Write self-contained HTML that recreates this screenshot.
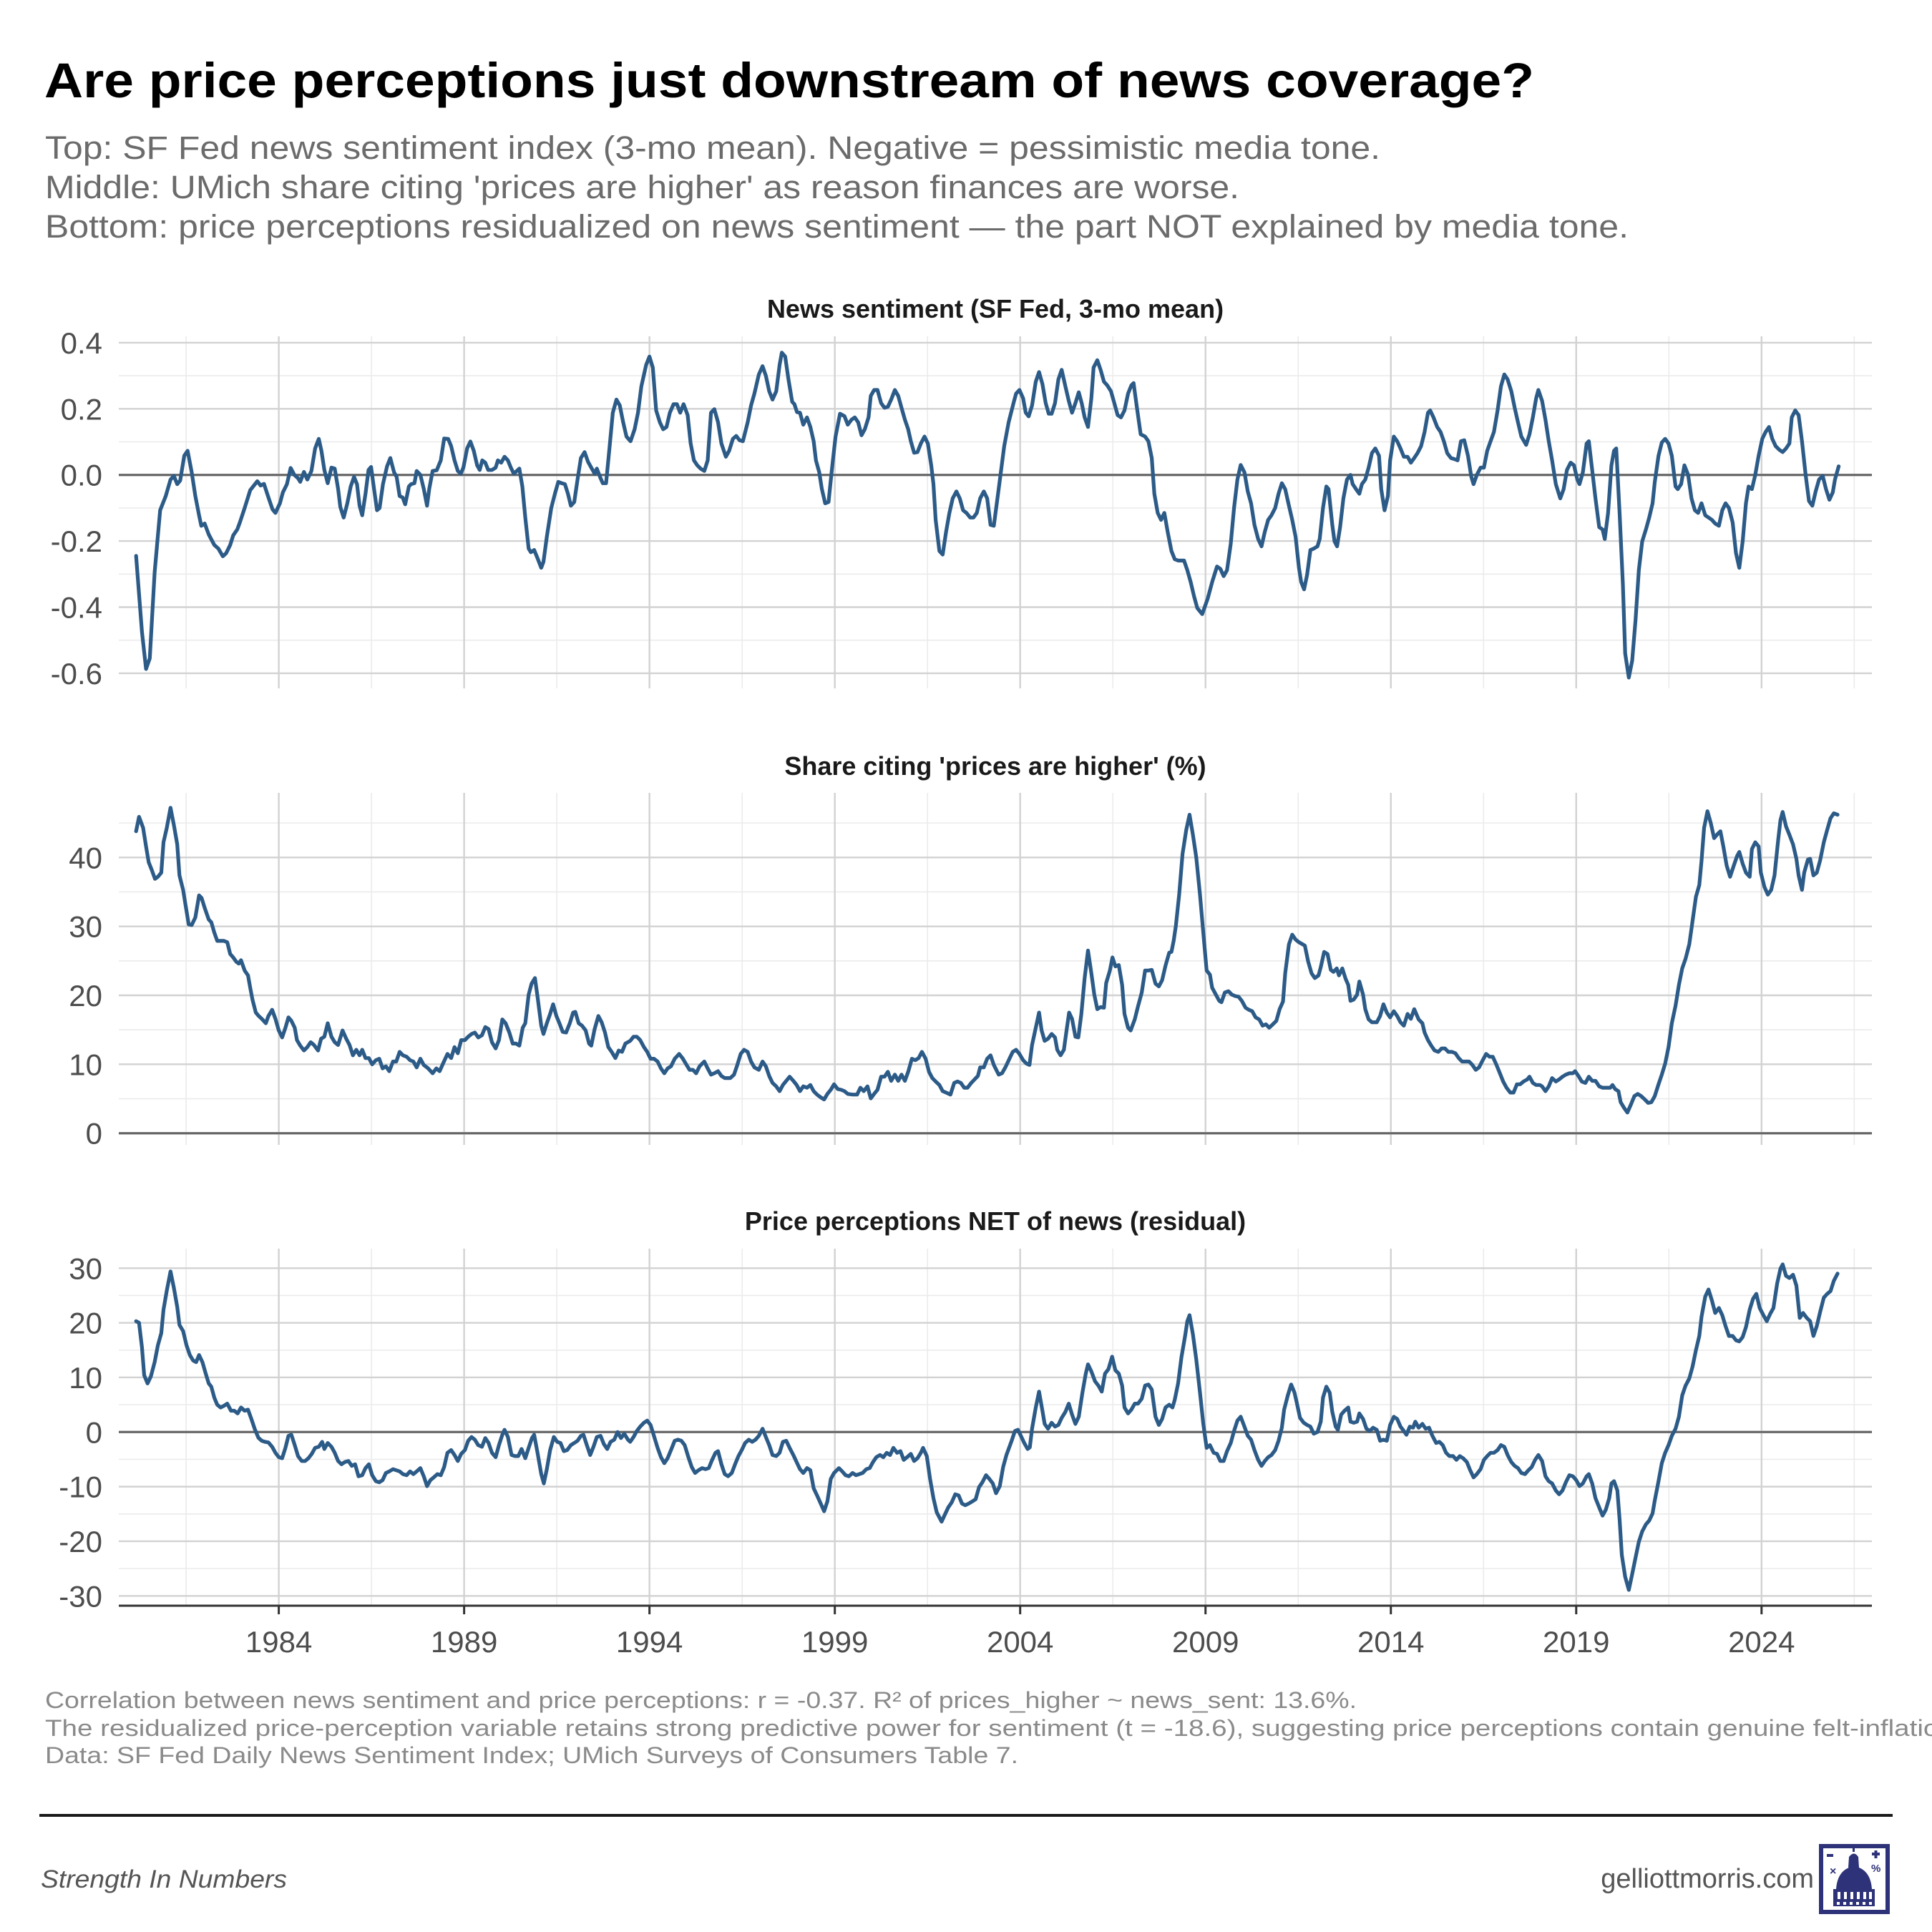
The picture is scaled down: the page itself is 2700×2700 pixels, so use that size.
<!DOCTYPE html>
<html><head><meta charset="utf-8"><title>Are price perceptions just downstream of news coverage?</title>
<style>html,body{margin:0;padding:0;background:#fff}svg{display:block}text{font-family:"Liberation Sans",Arial,sans-serif}</style></head>
<body>
<svg id="chart" width="2700" height="2700" viewBox="0 0 2700 2700" xmlns="http://www.w3.org/2000/svg">
<rect width="2700" height="2700" fill="#fff"/>
<text x="62" y="136" font-size="69" font-weight="bold" fill="#000" textLength="2082" lengthAdjust="spacingAndGlyphs">Are price perceptions just downstream of news coverage?</text>
<g font-size="45" fill="#6b6b6b">
<text x="63" y="222" textLength="1866" lengthAdjust="spacingAndGlyphs">Top: SF Fed news sentiment index (3-mo mean). Negative = pessimistic media tone.</text>
<text x="63" y="277" textLength="1669" lengthAdjust="spacingAndGlyphs">Middle: UMich share citing 'prices are higher' as reason finances are worse.</text>
<text x="63" y="332" textLength="2213" lengthAdjust="spacingAndGlyphs">Bottom: price perceptions residualized on news sentiment — the part NOT explained by media tone.</text>
</g>
<g id="panels"></g>
<g font-size="32" fill="#8a8a8a">
<text x="63" y="2387" textLength="1833" lengthAdjust="spacingAndGlyphs">Correlation between news sentiment and price perceptions: r = -0.37. R² of prices_higher ~ news_sent: 13.6%.</text>
<text x="63" y="2426" textLength="2790" lengthAdjust="spacingAndGlyphs">The residualized price-perception variable retains strong predictive power for sentiment (t = -18.6), suggesting price perceptions contain genuine felt-inflation signal.</text>
<text x="63" y="2464" textLength="1360" lengthAdjust="spacingAndGlyphs">Data: SF Fed Daily News Sentiment Index; UMich Surveys of Consumers Table 7.</text>
</g>
<line x1="55" y1="2537" x2="2645" y2="2537" stroke="#1a1a1a" stroke-width="4"/>
<text x="57" y="2638" font-size="35" font-style="italic" fill="#555" textLength="344" lengthAdjust="spacingAndGlyphs">Strength In Numbers</text>
<text x="2535" y="2638" font-size="38" fill="#555" text-anchor="end">gelliottmorris.com</text>
<g>
<rect x="2545" y="2580" width="93" height="92" fill="none" stroke="#2e3278" stroke-width="6"/>
<rect x="2558" y="2584" width="67" height="6" fill="#fff"/>
<rect x="2553" y="2591" width="9" height="4" fill="#2e3278"/>
<rect x="2616" y="2589" width="11" height="4" fill="#2e3278"/><rect x="2619.5" y="2586" width="4" height="11" fill="#2e3278"/>
<text x="2557" y="2620" font-size="16" font-weight="bold" fill="#2e3278">×</text>
<text x="2615" y="2616" font-size="15" font-weight="bold" fill="#2e3278">%</text>
<rect x="2589" y="2578" width="3" height="10" fill="#2e3278"/>
<path d="M2583 2610 L2584 2595 Q2591 2586 2597 2595 L2598 2610 Z" fill="#2e3278"/>
<path d="M2566 2640 Q2568 2612 2591 2608 Q2614 2612 2616 2640 Z" fill="#2e3278"/>
<rect x="2562" y="2640" width="58" height="24" fill="#2e3278"/>
<g fill="#fff"><rect x="2568" y="2644" width="4" height="10"/><rect x="2577" y="2644" width="4" height="10"/><rect x="2586" y="2644" width="4" height="10"/><rect x="2595" y="2644" width="4" height="10"/><rect x="2604" y="2644" width="4" height="10"/><rect x="2612" y="2644" width="4" height="10"/>
<rect x="2567" y="2658" width="4" height="4"/><rect x="2576" y="2658" width="4" height="4"/><rect x="2585" y="2658" width="4" height="4"/><rect x="2594" y="2658" width="4" height="4"/><rect x="2603" y="2658" width="4" height="4"/><rect x="2612" y="2658" width="4" height="4"/></g>
</g>
</svg>
<script>
const newsYears=[1980.15,1980.31,1980.42,1980.52,1980.65,1980.80,1980.95,1981.08,1981.17,1981.26,1981.34,1981.45,1981.54,1981.65,1981.75,1981.85,1981.91,1982.00,1982.11,1982.26,1982.37,1982.49,1982.58,1982.69,1982.77,1982.88,1982.95,1983.08,1983.23,1983.42,1983.51,1983.60,1983.72,1983.83,1983.91,1984.03,1984.11,1984.22,1984.32,1984.42,1984.52,1984.58,1984.68,1984.77,1984.88,1984.98,1985.08,1985.15,1985.23,1985.32,1985.42,1985.51,1985.60,1985.66,1985.75,1985.85,1985.94,1986.03,1986.11,1986.18,1986.25,1986.34,1986.42,1986.49,1986.57,1986.65,1986.72,1986.81,1986.92,1987.01,1987.11,1987.18,1987.26,1987.34,1987.41,1987.51,1987.57,1987.66,1987.72,1987.82,1987.91,1988.00,1988.06,1988.15,1988.26,1988.37,1988.46,1988.57,1988.65,1988.74,1988.83,1988.91,1988.98,1989.08,1989.17,1989.26,1989.35,1989.42,1989.49,1989.57,1989.65,1989.75,1989.85,1989.91,1990.00,1990.09,1990.18,1990.26,1990.34,1990.42,1990.49,1990.57,1990.65,1990.74,1990.80,1990.89,1990.98,1991.08,1991.14,1991.23,1991.35,1991.45,1991.54,1991.63,1991.72,1991.80,1991.88,1991.97,1992.06,1992.15,1992.25,1992.34,1992.43,1992.52,1992.58,1992.68,1992.74,1992.83,1992.92,1993.01,1993.11,1993.20,1993.29,1993.38,1993.49,1993.60,1993.69,1993.78,1993.91,1994.00,1994.09,1994.18,1994.28,1994.37,1994.46,1994.55,1994.65,1994.74,1994.83,1994.92,1995.03,1995.11,1995.20,1995.29,1995.38,1995.48,1995.57,1995.66,1995.75,1995.85,1995.94,1996.06,1996.15,1996.25,1996.34,1996.43,1996.52,1996.65,1996.74,1996.83,1996.95,1997.05,1997.14,1997.23,1997.32,1997.42,1997.51,1997.57,1997.66,1997.75,1997.85,1997.91,1997.98,1998.06,1998.15,1998.25,1998.34,1998.43,1998.49,1998.58,1998.65,1998.74,1998.83,1998.92,1999.02,1999.14,1999.26,1999.35,1999.45,1999.54,1999.63,1999.72,1999.81,1999.91,1999.97,2000.06,2000.15,2000.25,2000.34,2000.43,2000.52,2000.62,2000.71,2000.80,2000.89,2000.98,2001.05,2001.14,2001.23,2001.32,2001.42,2001.51,2001.60,2001.66,2001.72,2001.82,2001.91,2002.00,2002.09,2002.18,2002.28,2002.37,2002.46,2002.55,2002.65,2002.74,2002.83,2002.92,2003.02,2003.11,2003.20,2003.29,2003.42,2003.57,2003.69,
2003.82,2003.89,2003.98,2004.08,2004.15,2004.23,2004.32,2004.42,2004.51,2004.60,2004.69,2004.77,2004.85,2004.94,2005.03,2005.12,2005.22,2005.31,2005.40,2005.49,2005.58,2005.66,2005.74,2005.83,2005.92,2005.98,2006.08,2006.17,2006.26,2006.35,2006.45,2006.54,2006.63,2006.72,2006.815,2006.91,2007.00,2007.06,2007.15,2007.25,2007.37,2007.46,2007.55,2007.62,2007.71,2007.80,2007.89,2007.98,2008.08,2008.17,2008.26,2008.42,2008.51,2008.60,2008.69,2008.78,2008.91,2009.06,2009.18,2009.31,2009.40,2009.49,2009.58,2009.68,2009.77,2009.86,2009.95,2010.05,2010.14,2010.23,2010.32,2010.42,2010.51,2010.60,2010.69,2010.78,2010.88,2010.97,2011.06,2011.15,2011.25,2011.34,2011.43,2011.52,2011.58,2011.66,2011.74,2011.83,2011.92,2012.02,2012.08,2012.17,2012.26,2012.32,2012.42,2012.48,2012.55,2012.63,2012.72,2012.815,2012.91,2012.97,2013.06,2013.15,2013.22,2013.31,2013.40,2013.49,2013.58,2013.68,2013.74,2013.83,2013.92,2013.98,2014.08,2014.17,2014.26,2014.35,2014.45,2014.54,2014.63,2014.72,2014.815,2014.91,2015.00,2015.06,2015.15,2015.25,2015.34,2015.43,2015.52,2015.62,2015.71,2015.80,2015.89,2015.98,2016.08,2016.17,2016.23,2016.32,2016.42,2016.51,2016.60,2016.69,2016.78,2016.88,2016.97,2017.06,2017.15,2017.25,2017.34,2017.43,2017.52,2017.65,2017.74,2017.83,2017.92,2017.98,2018.08,2018.17,2018.26,2018.35,2018.45,2018.57,2018.66,2018.75,2018.85,2018.94,2019.03,2019.09,2019.18,2019.28,2019.34,2019.43,2019.52,2019.62,2019.71,2019.77,2019.86,2019.95,2020.02,2020.08,2020.17,2020.26,2020.32,2020.42,2020.51,2020.60,2020.69,2020.78,2020.88,2020.97,2021.06,2021.12,2021.22,2021.31,2021.40,2021.49,2021.58,2021.68,2021.74,2021.83,2021.92,2022.02,2022.11,2022.20,2022.29,2022.38,2022.48,2022.57,2022.66,2022.75,2022.85,2022.94,2023.03,2023.12,2023.22,2023.31,2023.40,2023.49,2023.58,2023.65,2023.74,2023.83,2023.92,2024.02,2024.11,2024.20,2024.29,2024.38,2024.48,2024.57,2024.66,2024.75,2024.815,2024.91,2025.00,2025.09,2025.19,2025.28,2025.37,2025.46,2025.55,2025.65,2025.74,2025.83,2025.92,2025.98,2026.08];
const newsValues=[-0.245,-0.475,-0.587,-0.555,-0.295,-0.107,-0.064,-0.014,-0.003,-0.028,-0.017,0.058,0.073,0.008,-0.064,-0.122,-0.154,-0.147,-0.18,-0.212,-0.223,-0.246,-0.237,-0.212,-0.183,-0.165,-0.144,-0.1,-0.046,-0.019,-0.032,-0.027,-0.068,-0.104,-0.115,-0.086,-0.053,-0.028,0.021,0,-0.01,-0.021,0.009,-0.014,0.012,0.08,0.109,0.073,0.015,-0.025,0.022,0.019,-0.042,-0.097,-0.129,-0.086,-0.035,-0.006,-0.028,-0.093,-0.122,-0.057,0.015,0.024,-0.042,-0.107,-0.1,-0.028,0.026,0.051,0.008,-0.006,-0.064,-0.068,-0.089,-0.035,-0.028,-0.025,0.012,0,-0.042,-0.093,-0.042,0.012,0.014,0.044,0.11,0.109,0.087,0.044,0.012,0.004,0.022,0.08,0.101,0.073,0.029,0.015,0.044,0.037,0.015,0.015,0.022,0.044,0.037,0.055,0.044,0.022,0.004,0.012,0.019,-0.035,-0.129,-0.223,-0.234,-0.227,-0.252,-0.281,-0.263,-0.187,-0.1,-0.057,-0.021,-0.025,-0.028,-0.057,-0.093,-0.082,-0.014,0.051,0.069,0.04,0.022,0.004,0.019,-0.01,-0.025,-0.025,0.08,0.188,0.228,0.21,0.159,0.116,0.102,0.138,0.188,0.268,0.333,0.358,0.325,0.195,0.159,0.138,0.145,0.188,0.214,0.214,0.188,0.214,0.181,0.095,0.044,0.029,0.019,0.012,0.044,0.188,0.199,0.159,0.095,0.055,0.073,0.109,0.118,0.105,0.102,0.159,0.21,0.246,0.304,0.329,0.3,0.253,0.228,0.253,0.333,0.37,0.358,0.289,0.221,0.214,0.19,0.188,0.152,0.174,0.145,0.102,0.044,0.008,-0.042,-0.086,-0.082,0.015,0.116,0.185,0.178,0.152,0.167,0.174,0.159,0.12,0.138,0.174,0.239,0.257,0.257,0.217,0.203,0.206,0.228,0.257,0.239,0.203,0.167,0.138,0.102,0.067,0.069,0.095,0.116,0.095,0.029,-0.028,-0.136,-0.23,-0.241,-0.173,-0.115,-0.071,-0.05,-0.071,-0.107,-0.115,-0.129,-0.129,-0.115,-0.071,-0.05,-0.071,-0.151,-0.154,-0.042,0.087,0.159,
0.217,0.246,0.257,0.232,0.188,0.177,0.21,0.282,0.311,0.275,0.217,0.185,0.185,0.217,0.289,0.318,0.268,0.224,0.188,0.217,0.25,0.217,0.174,0.145,0.232,0.325,0.347,0.318,0.282,0.271,0.253,0.217,0.181,0.174,0.195,0.246,0.271,0.278,0.203,0.123,0.116,0.102,0.051,-0.057,-0.115,-0.136,-0.115,-0.173,-0.23,-0.255,-0.259,-0.259,-0.288,-0.324,-0.367,-0.403,-0.421,-0.374,-0.324,-0.277,-0.284,-0.306,-0.288,-0.208,-0.1,-0.014,0.03,0.008,-0.05,-0.086,-0.151,-0.194,-0.216,-0.172,-0.136,-0.122,-0.1,-0.057,-0.025,-0.043,-0.093,-0.136,-0.187,-0.281,-0.324,-0.346,-0.302,-0.227,-0.223,-0.216,-0.194,-0.1,-0.035,-0.043,-0.151,-0.201,-0.216,-0.158,-0.071,-0.014,0,-0.028,-0.043,-0.057,-0.028,-0.014,0.022,0.066,0.08,0.058,-0.043,-0.107,-0.064,0.044,0.116,0.102,0.08,0.055,0.055,0.037,0.051,0.066,0.087,0.13,0.188,0.195,0.174,0.145,0.13,0.102,0.066,0.051,0.048,0.044,0.102,0.105,0.058,-0.006,-0.028,0,0.022,0.022,0.073,0.102,0.13,0.195,0.268,0.304,0.289,0.253,0.203,0.159,0.116,0.091,0.123,0.174,0.232,0.257,0.224,0.167,0.102,0.044,-0.028,-0.071,-0.043,0.015,0.037,0.029,-0.014,-0.028,0.008,0.095,0.102,0.015,-0.071,-0.158,-0.165,-0.194,-0.115,0.029,0.073,0.08,-0.115,-0.331,-0.54,-0.613,-0.562,-0.439,-0.288,-0.201,-0.165,-0.129,-0.086,-0.021,0.058,0.098,0.109,0.095,0.058,-0.035,-0.043,-0.028,0.029,0,-0.071,-0.107,-0.115,-0.086,-0.122,-0.129,-0.136,-0.147,-0.154,-0.107,-0.086,-0.1,-0.144,-0.237,-0.281,-0.201,-0.086,-0.035,-0.043,0,0.058,0.109,0.13,0.145,0.109,0.087,0.076,0.069,0.08,0.095,0.174,0.195,0.181,0.102,0,-0.079,-0.093,-0.05,-0.014,-0.003,-0.043,-0.075,-0.053,-0.014,0.026];
const newsTicks=[0.4,0.2,0,-0.2,-0.4,-0.6];
const newsTickLabels=["0.4","0.2","0.0","-0.2","-0.4","-0.6"];

const pricesYears=[1980.15,1980.23,1980.34,1980.42,1980.49,1980.58,1980.66,1980.74,1980.83,1980.89,1980.98,1981.08,1981.17,1981.26,1981.32,1981.42,1981.49,1981.57,1981.65,1981.75,1981.85,1981.92,1982.00,1982.11,1982.18,1982.26,1982.34,1982.42,1982.52,1982.61,1982.69,1982.77,1982.85,1982.92,1982.98,1983.08,1983.17,1983.23,1983.29,1983.38,1983.46,1983.54,1983.65,1983.72,1983.82,1983.91,1984.00,1984.09,1984.18,1984.26,1984.34,1984.43,1984.49,1984.58,1984.68,1984.77,1984.86,1984.95,1985.06,1985.14,1985.23,1985.32,1985.42,1985.51,1985.60,1985.72,1985.82,1985.91,1986.00,1986.09,1986.18,1986.25,1986.34,1986.43,1986.52,1986.62,1986.71,1986.80,1986.89,1986.98,1987.08,1987.17,1987.26,1987.35,1987.45,1987.54,1987.63,1987.72,1987.82,1987.91,1988.03,1988.15,1988.25,1988.34,1988.43,1988.55,1988.65,1988.74,1988.83,1988.92,1989.02,1989.11,1989.20,1989.29,1989.38,1989.48,1989.57,1989.66,1989.75,1989.85,1989.94,1990.03,1990.12,1990.22,1990.31,1990.40,1990.49,1990.58,1990.65,1990.74,1990.82,1990.91,1990.98,1991.08,1991.14,1991.23,1991.32,1991.40,1991.49,1991.57,1991.66,1991.75,1991.85,1991.94,1992.00,1992.09,1992.18,1992.28,1992.37,1992.43,1992.52,1992.62,1992.71,1992.80,1992.89,1992.98,1993.08,1993.17,1993.26,1993.35,1993.48,1993.57,1993.66,1993.75,1993.85,1993.94,1994.03,1994.12,1994.22,1994.31,1994.40,1994.49,1994.58,1994.68,1994.80,1994.89,1994.98,1995.08,1995.17,1995.26,1995.35,1995.48,1995.57,1995.66,1995.75,1995.85,1995.94,1996.03,1996.18,1996.28,1996.37,1996.46,1996.55,1996.65,1996.74,1996.83,1996.95,1997.05,1997.14,1997.23,1997.32,1997.42,1997.51,1997.60,1997.69,1997.78,1997.88,1997.97,1998.06,1998.15,1998.25,1998.34,1998.43,1998.52,1998.62,1998.71,1998.80,1998.89,1998.98,1999.08,1999.17,1999.26,1999.35,1999.48,1999.60,1999.69,1999.78,1999.88,1999.97,2000.06,2000.15,2000.25,2000.34,2000.43,2000.52,2000.62,2000.71,2000.80,2000.89,2000.98,2001.08,2001.17,2001.26,2001.35,2001.45,2001.54,2001.63,2001.72,2001.82,2001.91,2002.00,2002.12,2002.22,2002.31,2002.40,2002.49,2002.58,2002.68,2002.77,2002.86,2002.92,2003.02,2003.11,2003.20,2003.29,2003.42,2003.51,2003.60,
2003.71,2003.80,2003.89,2003.98,2004.08,2004.17,2004.25,2004.32,2004.42,2004.51,2004.58,2004.66,2004.75,2004.85,2004.94,2005.00,2005.09,2005.18,2005.25,2005.32,2005.40,2005.49,2005.57,2005.65,2005.74,2005.83,2005.92,2006.00,2006.08,2006.17,2006.26,2006.32,2006.42,2006.49,2006.57,2006.66,2006.75,2006.815,2006.91,2006.98,2007.09,2007.18,2007.28,2007.37,2007.46,2007.55,2007.65,2007.74,2007.83,2007.92,2008.02,2008.08,2008.14,2008.20,2008.29,2008.38,2008.48,2008.57,2008.66,2008.75,2008.85,2008.94,2009.03,2009.12,2009.18,2009.28,2009.37,2009.43,2009.52,2009.62,2009.71,2009.80,2009.89,2009.98,2010.08,2010.17,2010.26,2010.35,2010.45,2010.54,2010.63,2010.72,2010.815,2010.91,2011.00,2011.09,2011.15,2011.25,2011.34,2011.43,2011.52,2011.62,2011.68,2011.77,2011.86,2011.95,2012.05,2012.11,2012.20,2012.29,2012.38,2012.45,2012.54,2012.60,2012.69,2012.78,2012.85,2012.91,2013.00,2013.09,2013.15,2013.25,2013.31,2013.40,2013.49,2013.62,2013.71,2013.80,2013.89,2013.98,2014.08,2014.17,2014.26,2014.35,2014.45,2014.54,2014.63,2014.75,2014.85,2014.91,2015.00,2015.09,2015.18,2015.28,2015.37,2015.46,2015.55,2015.65,2015.74,2015.83,2015.92,2016.02,2016.11,2016.20,2016.29,2016.38,2016.48,2016.57,2016.66,2016.75,2016.85,2016.94,2017.03,2017.12,2017.22,2017.31,2017.40,2017.49,2017.58,2017.68,2017.74,2017.83,2017.92,2018.02,2018.08,2018.17,2018.26,2018.35,2018.45,2018.54,2018.63,2018.72,2018.815,2018.91,2018.97,2019.06,2019.15,2019.25,2019.34,2019.43,2019.52,2019.62,2019.71,2019.83,2019.92,2019.98,2020.05,2020.14,2020.20,2020.29,2020.38,2020.48,2020.57,2020.66,2020.75,2020.85,2020.94,2021.03,2021.12,2021.22,2021.31,2021.40,2021.49,2021.58,2021.68,2021.77,2021.86,2021.95,2022.05,2022.14,2022.23,2022.32,2022.38,2022.45,2022.54,2022.63,2022.72,2022.815,2022.89,2022.97,2023.06,2023.15,2023.25,2023.34,2023.40,2023.49,2023.58,2023.68,2023.74,2023.83,2023.92,2023.98,2024.08,2024.17,2024.26,2024.35,2024.45,2024.51,2024.57,2024.66,2024.75,2024.85,2024.94,2025.00,2025.09,2025.15,2025.25,2025.31,2025.40,2025.49,2025.58,2025.68,2025.77,2025.86,2025.95,2026.05];
const pricesValues=[43.8,45.9,44.3,41.6,39.3,38.1,36.9,37.2,37.8,42.2,44.3,47.2,44.7,41.9,37.4,35.3,32.9,30.3,30.2,31.3,34.5,34.1,32.7,31.0,30.6,29.1,27.9,27.9,27.9,27.7,26.0,25.5,24.9,24.6,25.1,23.6,22.9,21.1,19.4,17.5,17.0,16.6,15.95,17.0,17.9,16.6,14.9,13.9,15.3,16.8,16.3,15.3,13.5,12.7,12.0,12.5,13.2,12.8,12.0,13.7,14.0,15.95,14.0,13.2,12.8,14.9,13.7,12.8,11.3,12.1,11.3,12.1,10.9,10.9,10.0,10.6,10.8,9.4,9.7,9.0,10.4,10.4,11.8,11.3,11.1,10.6,10.4,9.55,10.8,9.9,9.4,8.7,9.4,9.0,10.1,11.5,10.9,12.5,11.6,13.5,13.5,14.0,14.4,14.6,13.9,14.2,15.4,15.1,13.2,12.3,13.5,16.5,15.95,14.6,13.0,13.0,12.7,15.3,15.95,20.1,21.7,22.5,19.8,15.6,14.4,15.95,17.3,18.7,17.0,15.95,14.7,14.6,15.95,17.5,17.6,15.95,15.6,14.9,13.0,12.7,15.1,17.0,16.1,14.6,12.5,11.8,10.9,12.0,11.8,13.0,13.4,14.0,14.0,13.5,12.5,11.8,10.8,10.8,10.4,9.4,8.7,9.4,9.7,10.8,11.5,10.9,10.1,9.2,9.2,8.7,9.7,10.4,9.4,8.5,8.7,9.0,8.3,8.0,8.0,8.5,9.9,11.5,12.1,11.8,10.4,9.55,9.2,10.4,9.7,8.3,7.3,6.8,6.1,7.0,7.6,8.2,7.6,7.0,6.1,6.8,6.6,7.0,6.1,5.6,5.2,4.9,5.7,6.3,7.1,6.4,6.3,6.1,5.7,5.6,5.6,6.6,6.1,6.8,5.05,5.7,6.3,8.2,8.2,8.9,7.6,8.5,7.6,8.5,7.6,8.9,10.8,10.6,10.9,11.8,10.8,8.9,8.0,7.5,7.0,6.1,5.9,5.6,7.3,7.5,7.3,6.6,6.6,7.3,7.8,8.3,9.55,9.55,10.8,11.3,9.9,8.5,8.7,9.55,
10.8,11.8,12.1,11.5,10.6,10.1,9.9,12.8,15.3,17.5,14.9,13.4,13.7,14.4,13.9,12.1,11.3,12.1,14.9,17.5,16.6,14.0,13.9,17.3,22.5,26.5,23.2,20.1,18.0,18.3,18.2,21.8,23.6,25.5,24.2,24.4,21.5,17.3,15.3,14.9,16.5,18.4,20.4,23.6,23.6,23.7,21.7,21.3,22.2,24.3,26.2,26.3,27.9,30.1,34.6,40.5,44.0,46.2,43.3,40.0,34.6,29.1,23.6,23.0,21.1,20.1,19.2,19.0,20.4,20.6,20.1,19.9,19.8,19.2,18.2,17.9,17.7,16.8,16.5,15.6,15.8,15.3,15.8,16.3,18.0,19.1,23.2,27.4,28.8,28.1,27.7,27.4,27.2,24.9,23.2,22.5,22.9,24.1,26.3,26.0,23.7,23.4,23.9,22.9,23.9,22.4,21.5,19.2,19.4,20.1,22.0,20.1,18.0,16.5,16.1,16.1,17.0,18.7,17.5,16.8,17.7,17.0,16.1,15.6,17.3,16.6,18.0,16.5,15.95,14.6,13.5,12.7,12.0,11.8,12.3,12.3,11.8,11.8,11.6,10.9,10.4,10.4,10.4,9.9,9.2,9.55,10.6,11.5,11.1,11.1,9.9,8.7,7.5,6.6,5.9,5.9,7.1,7.1,7.5,7.8,8.2,7.3,7.0,7.0,6.8,6.1,6.8,8.0,7.5,7.8,8.2,8.5,8.7,8.7,9.0,8.3,7.5,7.3,8.2,7.6,7.6,6.8,6.6,6.6,6.6,7.0,6.4,6.1,4.5,3.7,3.0,4.2,5.4,5.7,5.4,4.9,4.4,4.5,5.4,7.1,8.5,10.1,12.5,15.95,18.5,21.5,23.9,25.3,27.4,30.8,34.3,36.0,39.5,44.3,46.7,45.0,42.8,43.4,43.8,41.6,38.8,37.2,38.8,40.2,40.8,39.1,37.8,37.2,41.2,42.2,41.6,37.8,35.7,34.6,35.3,37.4,42.6,45.4,46.6,44.5,43.3,41.9,39.8,37.4,35.3,37.8,39.7,39.8,37.4,37.8,39.6,42.2,44.0,45.7,46.4,46.2];
const pricesTicks=[0,10,20,30,40];
const pricesTickLabels=["0","10","20","30","40"];

const residYears=[1980.15,1980.23,1980.31,1980.37,1980.46,1980.55,1980.65,1980.74,1980.83,1980.89,1980.98,1981.08,1981.17,1981.26,1981.32,1981.42,1981.51,1981.60,1981.69,1981.77,1981.85,1981.94,1982.03,1982.11,1982.18,1982.26,1982.34,1982.43,1982.52,1982.61,1982.71,1982.80,1982.89,1982.98,1983.08,1983.17,1983.26,1983.35,1983.45,1983.54,1983.63,1983.72,1983.82,1983.91,1984.00,1984.09,1984.18,1984.26,1984.34,1984.43,1984.52,1984.62,1984.71,1984.80,1984.89,1984.98,1985.08,1985.17,1985.23,1985.32,1985.42,1985.51,1985.60,1985.69,1985.78,1985.88,1985.97,1986.06,1986.15,1986.25,1986.34,1986.43,1986.52,1986.62,1986.71,1986.80,1986.89,1986.98,1987.08,1987.17,1987.26,1987.35,1987.45,1987.54,1987.63,1987.72,1987.82,1987.91,1988.00,1988.09,1988.18,1988.28,1988.37,1988.46,1988.55,1988.65,1988.74,1988.83,1988.92,1989.02,1989.11,1989.20,1989.29,1989.38,1989.48,1989.57,1989.66,1989.75,1989.85,1989.94,1990.03,1990.09,1990.18,1990.28,1990.37,1990.46,1990.55,1990.65,1990.74,1990.83,1990.89,1990.98,1991.08,1991.15,1991.23,1991.32,1991.42,1991.51,1991.60,1991.69,1991.78,1991.88,1991.97,1992.06,1992.15,1992.22,1992.31,1992.40,1992.49,1992.58,1992.68,1992.77,1992.86,1992.95,1993.05,1993.14,1993.23,1993.32,1993.42,1993.48,1993.57,1993.66,1993.75,1993.85,1993.94,1994.03,1994.12,1994.22,1994.31,1994.40,1994.49,1994.58,1994.68,1994.77,1994.86,1994.95,1995.05,1995.14,1995.23,1995.32,1995.42,1995.51,1995.60,1995.69,1995.78,1995.85,1995.94,1996.03,1996.12,1996.22,1996.31,1996.40,1996.49,1996.58,1996.68,1996.77,1996.86,1996.95,1997.05,1997.14,1997.23,1997.32,1997.42,1997.51,1997.60,1997.69,1997.78,1997.88,1997.97,1998.06,1998.15,1998.25,1998.34,1998.43,1998.52,1998.62,1998.71,1998.80,1998.89,1998.98,1999.11,1999.20,1999.29,1999.38,1999.48,1999.57,1999.66,1999.75,1999.85,1999.94,2000.03,2000.12,2000.22,2000.31,2000.40,2000.49,2000.58,2000.68,2000.77,2000.86,2000.95,2001.05,2001.14,2001.23,2001.32,2001.38,2001.48,2001.57,2001.66,2001.75,2001.88,2001.97,2002.06,2002.15,2002.25,2002.34,2002.43,2002.52,2002.61,2002.71,2002.80,2002.89,2002.98,2003.08,2003.17,2003.26,2003.35,2003.45,2003.54,2003.63,
2003.77,2003.86,2003.94,2004.02,2004.11,2004.20,2004.26,2004.32,2004.42,2004.51,2004.60,2004.66,2004.75,2004.85,2004.94,2005.03,2005.12,2005.22,2005.31,2005.40,2005.49,2005.58,2005.68,2005.77,2005.83,2005.92,2006.02,2006.11,2006.20,2006.29,2006.38,2006.48,2006.57,2006.66,2006.75,2006.815,2006.91,2007.00,2007.09,2007.18,2007.28,2007.37,2007.46,2007.55,2007.65,2007.74,2007.83,2007.92,2008.02,2008.11,2008.17,2008.26,2008.35,2008.45,2008.51,2008.57,2008.66,2008.75,2008.85,2008.94,2009.03,2009.12,2009.22,2009.31,2009.40,2009.49,2009.58,2009.68,2009.77,2009.86,2009.95,2010.05,2010.14,2010.23,2010.32,2010.42,2010.51,2010.60,2010.69,2010.78,2010.88,2010.97,2011.06,2011.12,2011.22,2011.31,2011.40,2011.46,2011.55,2011.65,2011.74,2011.83,2011.92,2012.02,2012.11,2012.17,2012.26,2012.35,2012.42,2012.51,2012.57,2012.66,2012.75,2012.85,2012.91,2013.00,2013.09,2013.15,2013.25,2013.34,2013.43,2013.52,2013.62,2013.71,2013.80,2013.89,2013.98,2014.08,2014.17,2014.26,2014.35,2014.42,2014.51,2014.60,2014.66,2014.75,2014.85,2014.94,2015.03,2015.12,2015.22,2015.31,2015.40,2015.49,2015.58,2015.68,2015.77,2015.86,2015.95,2016.05,2016.14,2016.23,2016.32,2016.42,2016.51,2016.60,2016.69,2016.78,2016.88,2016.97,2017.06,2017.15,2017.25,2017.34,2017.43,2017.52,2017.62,2017.71,2017.80,2017.89,2017.98,2018.08,2018.17,2018.26,2018.35,2018.45,2018.54,2018.63,2018.72,2018.815,2018.91,2019.00,2019.09,2019.18,2019.28,2019.34,2019.43,2019.52,2019.62,2019.71,2019.80,2019.89,2019.95,2020.02,2020.11,2020.17,2020.23,2020.32,2020.42,2020.51,2020.60,2020.69,2020.78,2020.88,2020.97,2021.06,2021.12,2021.22,2021.31,2021.40,2021.49,2021.58,2021.68,2021.77,2021.86,2021.95,2022.05,2022.14,2022.23,2022.32,2022.38,2022.48,2022.57,2022.66,2022.75,2022.85,2022.94,2023.03,2023.12,2023.22,2023.31,2023.40,2023.49,2023.58,2023.68,2023.77,2023.86,2023.95,2024.05,2024.14,2024.23,2024.32,2024.42,2024.51,2024.57,2024.66,2024.75,2024.85,2024.94,2025.03,2025.12,2025.22,2025.31,2025.40,2025.49,2025.58,2025.68,2025.77,2025.86,2025.95,2026.05];
const residValues=[20.3,20.0,15.5,10.4,8.9,10.2,12.8,15.9,18.1,22.4,25.9,29.4,26.4,22.9,19.6,18.5,15.9,14.1,13.1,12.8,14.1,12.8,10.7,8.9,8.3,6.3,5.0,4.5,4.8,5.2,3.9,3.9,3.4,4.5,3.9,4.1,2.4,0.6,-1.05,-1.6,-1.8,-1.9,-2.7,-3.8,-4.6,-4.8,-2.9,-0.7,-0.5,-2.4,-4.4,-5.3,-5.3,-4.8,-4.0,-2.9,-2.7,-1.8,-3.1,-2.0,-2.7,-3.8,-5.3,-5.9,-5.5,-5.3,-6.2,-5.9,-8.1,-7.9,-6.6,-5.9,-7.9,-9.0,-9.2,-8.8,-7.5,-7.2,-6.8,-7.0,-7.2,-7.7,-7.9,-7.2,-7.7,-7.2,-6.6,-8.1,-9.9,-8.8,-8.3,-7.7,-7.9,-6.4,-3.8,-3.3,-4.2,-5.3,-4.0,-3.3,-1.6,-0.9,-1.4,-2.4,-2.7,-1.1,-2.0,-3.8,-4.6,-2.4,-0.5,0.4,-0.9,-4.2,-4.4,-4.4,-3.1,-4.8,-2.9,-1.1,-0.5,-3.8,-7.7,-9.4,-6.8,-3.3,-0.9,-1.8,-2.0,-3.5,-3.3,-2.4,-2.0,-1.6,-0.7,-0.5,-2.4,-4.2,-2.7,-0.9,-0.7,-2.2,-3.1,-1.8,-1.4,0,-1.1,-0.3,-1.4,-1.8,-0.9,0.2,1.0,1.7,2.1,1.3,-0.7,-2.9,-4.6,-5.7,-4.8,-3.3,-1.6,-1.4,-1.6,-2.4,-4.6,-6.4,-7.5,-7.0,-6.6,-6.8,-6.6,-5.1,-3.8,-3.5,-5.9,-7.7,-8.1,-7.5,-5.9,-4.4,-3.3,-2.0,-1.4,-1.8,-1.4,-0.7,0.6,-0.9,-2.4,-4.2,-4.4,-3.8,-1.8,-1.6,-2.9,-4.2,-5.5,-6.8,-7.5,-6.6,-7.0,-10.3,-11.6,-13.1,-14.5,-12.7,-8.6,-7.5,-6.6,-7.2,-7.9,-8.1,-7.5,-7.9,-7.7,-7.5,-6.8,-6.6,-5.5,-4.6,-4.2,-4.6,-3.8,-4.2,-2.9,-3.8,-3.5,-5.1,-4.6,-4.0,-5.3,-4.8,-3.8,-2.9,-4.4,-8.6,-12.1,-14.7,-16.4,-15.1,-13.8,-12.9,-11.4,-11.6,-13.1,-13.4,-13.1,-12.7,-12.3,-10.1,-9.2,-7.9,-8.6,-9.4,-11.2,-9.9,-6.4,-4.2,
-1.6,0.2,0.4,-0.7,-2.0,-3.1,-2.8,0.6,4.5,7.4,3.9,1.5,0.6,1.7,1.0,1.3,2.6,3.7,5.2,3.2,1.5,2.8,7.2,10.7,12.4,11.1,9.3,8.5,7.4,10.7,11.5,13.8,11.3,10.7,8.5,4.5,3.4,4.1,5.2,5.2,6.1,8.5,8.7,7.8,2.8,1.3,2.4,4.5,5.0,4.5,5.9,8.9,13.7,17.6,20.3,21.4,17.9,13.3,7.2,1.5,-2.9,-2.4,-3.8,-4.0,-5.3,-5.3,-3.5,-2.0,0.2,2.1,2.8,1.0,-0.7,-1.4,-3.3,-5.1,-6.2,-5.3,-4.6,-4.2,-3.3,-1.6,0.8,4.1,6.7,8.7,7.2,5.4,2.6,1.7,1.3,1.0,-0.3,0,1.9,6.3,8.3,7.2,3.7,1.0,0.4,3.2,3.9,4.5,1.9,1.7,1.9,3.4,2.4,0.6,0.2,0.8,0.4,-1.6,-1.4,-1.6,1.3,2.8,2.4,1.0,0.2,-0.5,1.0,0.8,1.9,0.8,1.5,0.6,0.8,-0.7,-2.0,-1.8,-2.4,-3.8,-4.4,-4.4,-5.1,-4.4,-4.8,-5.5,-7.0,-8.3,-7.7,-6.8,-5.1,-4.4,-3.8,-3.8,-3.3,-2.4,-2.7,-4.2,-5.5,-6.2,-6.6,-7.5,-7.7,-7.0,-6.4,-5.1,-4.2,-5.3,-8.1,-9.0,-9.4,-10.7,-11.4,-10.7,-9.2,-7.9,-8.1,-8.8,-9.9,-9.4,-8.1,-7.7,-9.4,-12.1,-13.8,-15.3,-14.2,-12.1,-9.4,-9.0,-10.7,-16.0,-22.5,-26.5,-28.9,-26.0,-23.0,-20.1,-18.2,-16.9,-16.2,-14.9,-12.5,-9.0,-5.7,-3.8,-2.4,-0.7,0.6,2.8,6.7,8.5,9.8,12.0,15.0,17.6,21.1,24.8,26.1,24.1,21.8,22.7,21.4,19.4,17.6,17.6,16.8,16.6,17.4,19.2,22.4,24.4,25.3,22.7,21.4,20.3,21.6,22.7,27.2,29.9,30.7,28.6,28.2,28.8,26.8,20.9,21.8,20.9,20.3,17.6,19.4,22.0,24.6,25.3,25.8,27.7,29.0];
const residTicks=[30,20,10,0,-10,-20,-30];
const residTickLabels=["30","20","10","0","-10","-20","-30"];

const yearTicks=[1984,1989,1994,1999,2004,2009,2014,2019,2024];
const yearMinor=[1981.5,1986.5,1991.5,1996.5,2001.5,2006.5,2011.5,2016.5,2021.5,2026.5];

const NS='http://www.w3.org/2000/svg';
const X0=166, X1=2616;
function xScale(yr){return 389.6+(yr-1984)*51.805;}
function mk(tag,attrs,parent){const e=document.createElementNS(NS,tag);for(const k in attrs)e.setAttribute(k,attrs[k]);parent.appendChild(e);return e;}
const root=document.getElementById('panels');

function drawPanel(cfg){
  const g=mk('g',{},root);
  
  
  const yS=v=>cfg.y0+(v-cfg.v0)*cfg.pxPer;
  cfg.minor.forEach(v=>{const l=mk('line',{x1:X0,x2:X1,y1:yS(v),y2:yS(v),stroke:'#ebebeb','stroke-width':1.6},g);
    
    });
  yearMinor.forEach(yr=>{const l=mk('line',{x1:xScale(yr),x2:xScale(yr),y1:cfg.top,y2:cfg.bottom,stroke:'#ebebeb','stroke-width':1.6},g);
    
    });
  cfg.ticks.forEach((v,i)=>{
    const l=mk('line',{x1:X0,x2:X1,y1:yS(v),y2:yS(v),stroke:v===0?'#666':'#d2d2d2','stroke-width':v===0?3:2.4},g);
    
    
    const t=mk('text',{x:143,y:yS(v)+15,'text-anchor':'end','font-size':42,fill:'#4d4d4d'},g);
    t.textContent=cfg.labels[i];
    
    
  });
  yearTicks.forEach(yr=>{const l=mk('line',{x1:xScale(yr),x2:xScale(yr),y1:cfg.top,y2:cfg.bottom,stroke:'#d2d2d2','stroke-width':2.4},g);
    
    });
  if(cfg.zeroOnTop){const l=mk('line',{x1:X0,x2:X1,y1:yS(0),y2:yS(0),stroke:'#666','stroke-width':3},g);
    
    }
  const title=mk('text',{x:1391,y:cfg.titleY,'text-anchor':'middle','font-size':36,'font-weight':'bold',fill:'#1a1a1a'},g);
  title.textContent=cfg.title;
  
  
  let d='';
  cfg.years.forEach((yr,i)=>{d+=(i?'L':'M')+xScale(yr).toFixed(1)+' '+yS(cfg.values[i]).toFixed(1);});
  const p=mk('path',{d:d,fill:'none',stroke:'#2c5b88','stroke-width':5.2,'stroke-linejoin':'round','stroke-linecap':'round'},g);
  
  
}
drawPanel({name:'news-sentiment-panel',lineName:'news-sentiment-line',title:'News sentiment (SF Fed, 3-mo mean)',titleY:444,top:470,bottom:962,y0:663.7,v0:0,pxPer:-462,
  ticks:newsTicks,labels:newsTickLabels,minor:[0.3,0.1,-0.1,-0.3,-0.5],years:newsYears,values:newsValues,zeroOnTop:true});
drawPanel({name:'prices-higher-panel',lineName:'prices-higher-line',title:"Share citing 'prices are higher' (%)",titleY:1083,top:1108,bottom:1600,y0:1583.7,v0:0,pxPer:-9.635,
  ticks:pricesTicks,labels:pricesTickLabels,minor:[45,35,25,15,5],years:pricesYears,values:pricesValues,zeroOnTop:true});
drawPanel({name:'residual-panel',lineName:'residual-line',title:'Price perceptions NET of news (residual)',titleY:1719,top:1745,bottom:2243,y0:2001.3,v0:0,pxPer:-7.633,
  ticks:residTicks,labels:residTickLabels,minor:[25,15,5,-5,-15,-25],years:residYears,values:residValues,zeroOnTop:true});

const ax=mk('g',{},root);


const axl=mk('line',{x1:X0,x2:X1,y1:2244,y2:2244,stroke:'#333','stroke-width':3},ax);


yearTicks.forEach(yr=>{
  const tk=mk('line',{x1:xScale(yr),x2:xScale(yr),y1:2244,y2:2256,stroke:'#333','stroke-width':3},ax);
  
  
  const t=mk('text',{x:xScale(yr),y:2309,'text-anchor':'middle','font-size':42,fill:'#4d4d4d'},ax);
  t.textContent=String(yr);
  
  
});
</script>
</body></html>
